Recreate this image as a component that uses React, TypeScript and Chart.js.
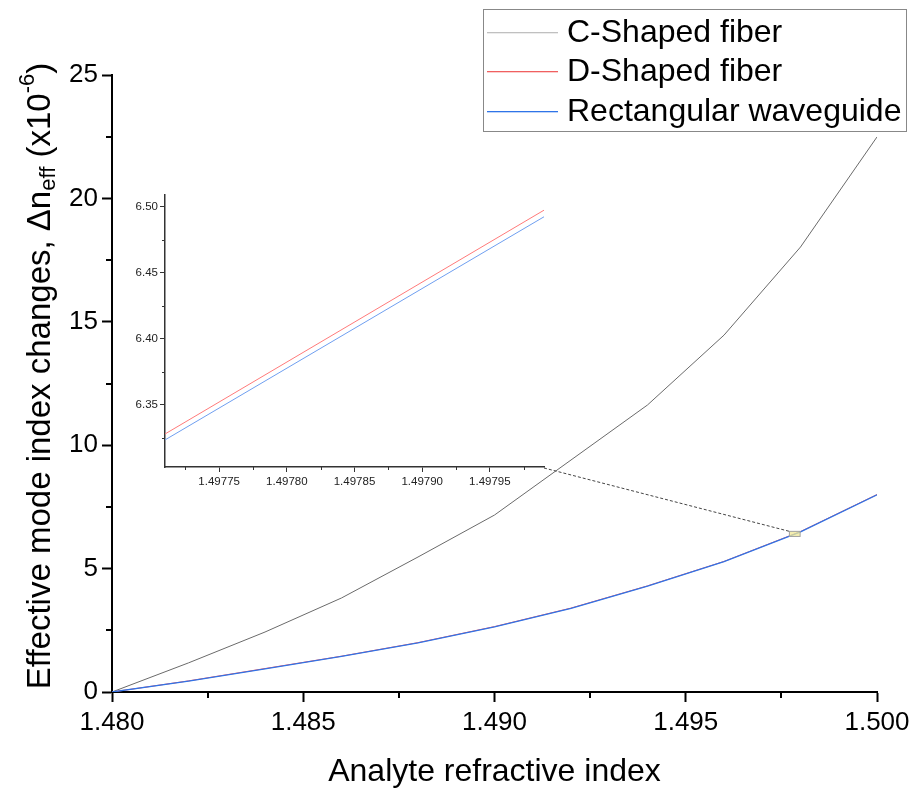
import React, { useEffect, useRef } from "react";
import { Chart, registerables } from "chart.js";

Chart.register(...registerables);

const FONT = "Arial, 'Liberation Sans', Helvetica, sans-serif";

// ---- data ----
const xValues = [1.48, 1.482, 1.484, 1.486, 1.488, 1.49, 1.492, 1.494, 1.496, 1.498, 1.5];
const cShaped = [0, 1.18, 2.43, 3.81, 5.47, 7.17, 9.4, 11.63, 14.46, 18.03, 22.49];
const dShaped = [0, 0.45, 0.95, 1.45, 2.0, 2.65, 3.4, 4.3, 5.29, 6.5, 8.0];
const rectWg = [0, 0.44, 0.94, 1.44, 1.99, 2.64, 3.39, 4.29, 5.28, 6.49, 7.99];

const xTicks = [1.48, 1.485, 1.49, 1.495, 1.5];
const xMinor = [1.4825, 1.4875, 1.4925, 1.4975];
const yTicks = [0, 5, 10, 15, 20, 25];
const yMinor = [2.5, 7.5, 12.5, 17.5, 22.5];

const insetX = [1.49771, 1.49799];
const insetD = [6.328, 6.4975];
const insetRect = [6.3235, 6.4925];
const insetXRange = [1.49771, 1.49799];
const insetYRange = [6.303, 6.509];
const insetXTicks = [1.49775, 1.4978, 1.49785, 1.4979, 1.49795];
const insetXMinor = [1.497725, 1.497775, 1.497825, 1.497875, 1.497925, 1.497975];
const insetYTicks = [6.35, 6.4, 6.45, 6.5];
const insetYMinor = [6.325, 6.375, 6.425, 6.475];

const seriesNames = ["C-Shaped fiber", "D-Shaped fiber", "Rectangular waveguide"];
const seriesColors = ["#6a6a6a", "#ff4d4d", "#2f74e8"];
const legendColors = ["#c0c0c0", "#f06060", "#2f74e8"];

const W = 911;
const H = 789;

export default function App() {
  const mainRef = useRef<HTMLCanvasElement | null>(null);
  const insetRef = useRef<HTMLCanvasElement | null>(null);

  useEffect(() => {
    if (!mainRef.current || !insetRef.current) return;
    document.body.style.margin = "0";

    // ---------- inset chart ----------
    const insetMinorPlugin = {
      id: "insetMinor",
      afterDraw(chart: any) {
        const ctx = chart.ctx;
        const xs = chart.scales.x;
        const ys = chart.scales.y;
        const area = chart.chartArea;
        ctx.save();
        ctx.strokeStyle = "#333";
        ctx.lineWidth = 1;
        ctx.beginPath();
        insetXMinor.forEach((v) => {
          const px = Math.round(xs.getPixelForValue(v)) + 0.5;
          ctx.moveTo(px, area.bottom);
          ctx.lineTo(px, area.bottom + 3);
        });
        insetYMinor.forEach((v) => {
          const py = Math.round(ys.getPixelForValue(v)) + 0.5;
          ctx.moveTo(area.left, py);
          ctx.lineTo(area.left - 3, py);
        });
        ctx.stroke();
        ctx.restore();
      },
    };

    const inset = new Chart(insetRef.current, {
      type: "line",
      data: {
        datasets: [
          {
            label: seriesNames[1],
            data: insetX.map((x, i) => ({ x, y: insetD[i] })),
            borderColor: "#ff7a7a",
            borderWidth: 1,
            pointRadius: 0,
          },
          {
            label: seriesNames[2],
            data: insetX.map((x, i) => ({ x, y: insetRect[i] })),
            borderColor: "#6f9ff0",
            borderWidth: 1,
            pointRadius: 0,
          },
        ],
      },
      options: {
        responsive: false,
        animation: false,
        events: [],
        layout: { padding: { left: 125, top: 195, right: 367, bottom: 292 } },
        plugins: { legend: { display: false }, tooltip: { enabled: false } },
        scales: {
          x: {
            type: "linear",
            min: insetXRange[0],
            max: insetXRange[1],
            afterBuildTicks: (s: any) => {
              s.ticks = insetXTicks.map((v) => ({ value: v }));
            },
            afterFit: (s: any) => {
              s.height = 30;
              s.paddingLeft = 0;
              s.paddingRight = 0;
            },
            border: { color: "#333", width: 1.5 },
            grid: { drawOnChartArea: false, drawTicks: true, tickLength: 5, tickColor: "#333", tickWidth: 1 },
            ticks: {
              color: "#222",
              font: { family: FONT, size: 11.5 },
              padding: 3,
              maxRotation: 0,
              autoSkip: false,
              callback: (v: any) => Number(v).toFixed(5),
            },
          },
          y: {
            type: "linear",
            min: insetYRange[0],
            max: insetYRange[1],
            afterBuildTicks: (s: any) => {
              s.ticks = insetYTicks.map((v) => ({ value: v }));
            },
            afterFit: (s: any) => {
              s.width = 40;
              s.paddingTop = 0;
              s.paddingBottom = 0;
            },
            border: { color: "#333", width: 1.5 },
            grid: { drawOnChartArea: false, drawTicks: true, tickLength: 5, tickColor: "#333", tickWidth: 1 },
            ticks: {
              color: "#222",
              font: { family: FONT, size: 11.5 },
              padding: 2,
              autoSkip: false,
              callback: (v: any) => Number(v).toFixed(2),
            },
          },
        },
      },
      plugins: [insetMinorPlugin],
    } as any);

    // ---------- main chart ----------
    const decorPlugin = {
      id: "decor",
      afterDraw(chart: any) {
        const ctx = chart.ctx;
        const xs = chart.scales.x;
        const ys = chart.scales.y;
        const area = chart.chartArea;
        ctx.save();

        // minor ticks
        ctx.strokeStyle = "#000";
        ctx.lineWidth = 2;
        ctx.beginPath();
        xMinor.forEach((v) => {
          const px = Math.round(xs.getPixelForValue(v));
          ctx.moveTo(px, area.bottom);
          ctx.lineTo(px, area.bottom + 6);
        });
        yMinor.forEach((v) => {
          const py = Math.round(ys.getPixelForValue(v));
          ctx.moveTo(area.left, py);
          ctx.lineTo(area.left - 6, py);
        });
        ctx.stroke();

        // zoom rectangle
        const rx0 = xs.getPixelForValue(insetXRange[0]);
        const rx1 = xs.getPixelForValue(insetXRange[1]);
        const ry0 = ys.getPixelForValue(insetYRange[1]);
        const ry1 = ys.getPixelForValue(insetYRange[0]);

        // connector from inset corner
        const ia = inset.chartArea;
        ctx.strokeStyle = "#444";
        ctx.lineWidth = 1;
        ctx.setLineDash([3, 2]);
        ctx.beginPath();
        ctx.moveTo(ia.right, ia.bottom + 1);
        ctx.lineTo(rx0, ry0);
        ctx.stroke();
        ctx.setLineDash([]);

        ctx.fillStyle = "rgba(240, 232, 150, 0.75)";
        ctx.fillRect(rx0, ry0, rx1 - rx0, ry1 - ry0);
        ctx.strokeStyle = "#a0a0a0";
        ctx.lineWidth = 1;
        ctx.strokeRect(rx0, ry0, rx1 - rx0, ry1 - ry0);

        // x title
        ctx.fillStyle = "#000";
        ctx.font = `32px ${FONT}`;
        ctx.textAlign = "center";
        ctx.textBaseline = "middle";
        ctx.fillText("Analyte refractive index", (area.left + area.right) / 2, 772);

        // y title with sub/superscript
        const parts = [
          { t: "Effective mode index changes, \u0394n", size: 33, dy: 0 },
          { t: "eff", size: 22, dy: 8 },
          { t: " (x10", size: 33, dy: 0 },
          { t: "-6", size: 22, dy: -13 },
          { t: ")", size: 33, dy: 0 },
        ];
        let total = 0;
        parts.forEach((p) => {
          ctx.font = `${p.size}px ${FONT}`;
          total += ctx.measureText(p.t).width;
        });
        ctx.translate(41, 376);
        ctx.rotate(-Math.PI / 2);
        ctx.textAlign = "left";
        ctx.textBaseline = "middle";
        let cx = -total / 2;
        parts.forEach((p) => {
          ctx.font = `${p.size}px ${FONT}`;
          ctx.fillText(p.t, cx, p.dy);
          cx += ctx.measureText(p.t).width;
        });
        ctx.setTransform(1, 0, 0, 1, 0, 0);

        // legend
        ctx.fillStyle = "#fff";
        ctx.fillRect(483.5, 9.5, 423, 122);
        ctx.strokeStyle = "#888";
        ctx.lineWidth = 1;
        ctx.strokeRect(483.5, 9.5, 423, 122);
        const rows = [32, 71, 111];
        ctx.font = `32px ${FONT}`;
        ctx.textAlign = "left";
        ctx.textBaseline = "middle";
        seriesNames.forEach((name, i) => {
          ctx.fillStyle = legendColors[i];
          ctx.fillRect(487, rows[i], 71, 1.3);
          ctx.fillStyle = "#000";
          ctx.fillText(name, 567, rows[i] + 1);
        });

        ctx.restore();
      },
    };

    const main = new Chart(mainRef.current, {
      type: "line",
      data: {
        datasets: [
          {
            label: seriesNames[0],
            data: xValues.map((x, i) => ({ x, y: cShaped[i] })),
            borderColor: seriesColors[0],
            borderWidth: 1,
            pointRadius: 0,
            order: 2,
          },
          {
            label: seriesNames[1],
            data: xValues.map((x, i) => ({ x, y: dShaped[i] })),
            borderColor: seriesColors[1],
            borderWidth: 1,
            pointRadius: 0,
            order: 1,
          },
          {
            label: seriesNames[2],
            data: xValues.map((x, i) => ({ x, y: rectWg[i] })),
            borderColor: seriesColors[2],
            borderWidth: 1.3,
            pointRadius: 0,
            order: 0,
          },
        ],
      },
      options: {
        responsive: false,
        animation: false,
        events: [],
        layout: { padding: { left: 0, top: 75, right: 34, bottom: 0 } },
        plugins: { legend: { display: false }, tooltip: { enabled: false } },
        scales: {
          x: {
            type: "linear",
            min: 1.48,
            max: 1.5,
            afterBuildTicks: (s: any) => {
              s.ticks = xTicks.map((v) => ({ value: v }));
            },
            afterFit: (s: any) => {
              s.height = 97;
              s.paddingLeft = 0;
              s.paddingRight = 0;
            },
            border: { color: "#000", width: 2 },
            grid: { drawOnChartArea: false, drawTicks: true, tickLength: 10, tickColor: "#000", tickWidth: 2 },
            ticks: {
              color: "#000",
              font: { family: FONT, size: 26 },
              padding: 5,
              maxRotation: 0,
              autoSkip: false,
              callback: (v: any) => Number(v).toFixed(3),
            },
          },
          y: {
            type: "linear",
            min: 0,
            max: 25,
            afterBuildTicks: (s: any) => {
              s.ticks = yTicks.map((v) => ({ value: v }));
            },
            afterFit: (s: any) => {
              s.width = 112;
              s.paddingTop = 0;
              s.paddingBottom = 0;
            },
            border: { color: "#000", width: 2 },
            grid: { drawOnChartArea: false, drawTicks: true, tickLength: 10, tickColor: "#000", tickWidth: 2 },
            ticks: {
              color: "#000",
              font: { family: FONT, size: 26 },
              padding: 4,
              autoSkip: false,
              callback: (v: any) => String(v),
            },
          },
        },
      },
      plugins: [decorPlugin],
    } as any);

    return () => {
      main.destroy();
      inset.destroy();
    };
  }, []);

  return (
    <div style={{ position: "fixed", left: 0, top: 0, width: W, height: H, background: "#fff" }}>
      <canvas ref={mainRef} width={W} height={H} style={{ position: "absolute", left: 0, top: 0 }} />
      <canvas
        ref={insetRef}
        width={W}
        height={H}
        style={{ position: "absolute", left: 0, top: 0, pointerEvents: "none" }}
      />
    </div>
  );
}
